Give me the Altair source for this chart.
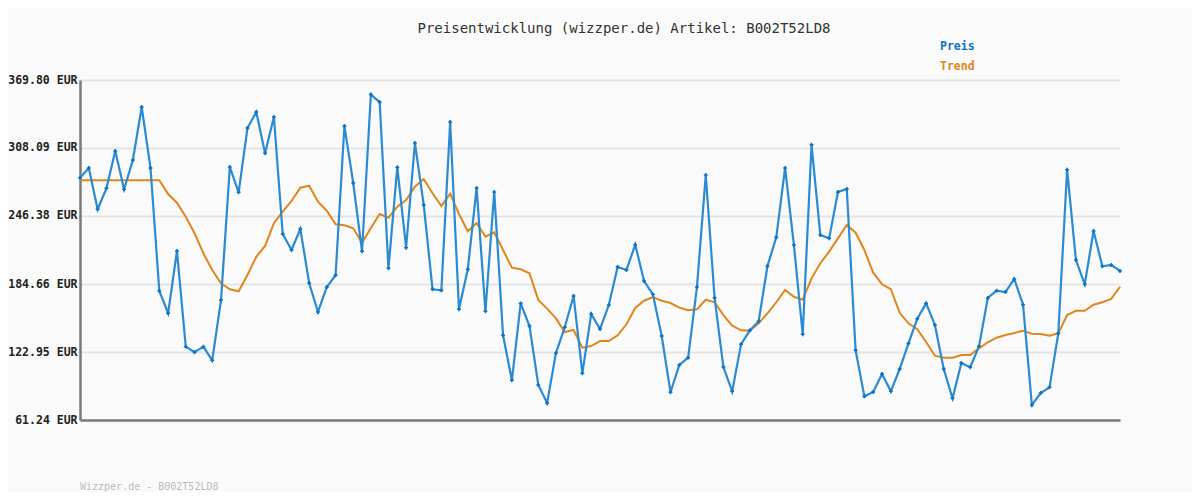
import altair as alt
import pandas as pd

preis = [281.1, 289.9, 252.5, 271.5, 305.4, 270.6, 297.2, 345.3, 289.9, 178.3,
         158.1, 214.6, 127.8, 122.7, 127.8, 115.4, 170.1, 290.8, 267.9, 326.2,
         340.8, 303.3, 336.2, 230.0, 215.5, 234.6, 185.6, 159.3, 181.9, 192.6,
         328.1, 276.3, 214.3, 356.6, 349.8, 198.9, 290.6, 217.6, 312.6, 256.4,
         179.9, 178.9, 331.7, 161.7, 198.0, 271.8, 159.9, 268.2, 138.1, 97.3,
         167.1, 146.5, 93.0, 76.7, 122.0, 145.4, 173.8, 103.6, 157.4, 143.8,
         165.6, 200.1, 197.4, 220.3, 187.4, 175.3, 137.5, 86.4, 111.2, 117.8,
         181.9, 283.6, 172.2, 109.3, 87.3, 129.9, 142.6, 150.8, 201.0, 227.0,
         289.9, 220.1, 139.0, 311.1, 229.1, 226.1, 268.2, 270.9, 124.5, 82.7,
         86.7, 103.0, 87.3, 107.5, 130.8, 153.2, 167.1, 147.5, 107.5, 80.9,
         113.0, 109.1, 128.1, 172.0, 178.6, 177.4, 189.2, 165.9, 74.9, 85.7,
         90.9, 139.9, 288.4, 206.4, 184.4, 232.8, 200.7, 201.9, 196.5]

trend = [278.8, 278.8, 278.8, 278.8, 278.8, 278.8, 278.8, 278.8, 278.8, 278.8,
         266.3, 258.4, 245.7, 230.7, 212.5, 197.4, 185.3, 179.9, 178.0, 192.8,
         209.4, 219.2, 239.8, 250.3, 260.0, 272.1, 273.9, 259.4, 251.2, 238.8,
         237.9, 235.2, 222.1, 235.5, 248.2, 244.8, 254.8, 260.9, 273.0, 280.0,
         267.0, 255.5, 266.6, 248.2, 232.5, 240.0, 227.6, 231.6, 215.5, 199.5,
         198.0, 194.4, 170.1, 162.3, 153.5, 141.1, 142.9, 126.9, 128.4, 132.9,
         132.9, 138.1, 148.1, 162.9, 169.5, 172.9, 169.5, 167.4, 163.2, 160.8,
         161.7, 170.4, 168.1, 156.5, 146.8, 142.6, 142.3, 149.0, 158.1, 168.1,
         179.2, 173.1, 170.4, 189.8, 203.5, 214.0, 226.1, 238.2, 231.2, 215.5,
         194.9, 184.4, 179.9, 158.5, 149.0, 143.6, 132.0, 119.6, 117.8, 117.8,
         120.2, 120.2, 126.3, 131.8, 135.9, 138.4, 140.2, 142.3, 139.6, 139.3,
         137.7, 139.9, 156.5, 160.4, 160.4, 165.9, 168.1, 171.1, 182.2]

y_ticks = [61.24, 122.95, 184.66, 246.38, 308.09, 369.80]
title_text = "Preisentwicklung (wizzper.de) Artikel: B002T52LD8"
legend_labels = ["Preis", "Trend"]
footer_text = "Wizzper.de - B002T52LD8"

BLUE_LINE = "#2b8bd2"
BLUE = "#0b72c4"
ORANGE = "#e0861c"
MONO = "DejaVu Sans Mono"

df = pd.DataFrame({"i": list(range(len(preis))), "preis": preis, "trend": trend})

xs = alt.X("i:Q", scale=alt.Scale(domain=[0, len(preis) - 1], nice=False, zero=False),
           axis=alt.Axis(labels=False, ticks=False, grid=False, title=None,
                         domainColor="#7a7a7a", domainWidth=2.5))
ys = alt.Y("preis:Q", scale=alt.Scale(domain=[y_ticks[0], y_ticks[-1]], nice=False, zero=False),
           axis=alt.Axis(values=y_ticks, labelExpr="format(datum.value, '.2f') + ' EUR'",
                         ticks=False, title=None, grid=True, gridColor="#e4e4e4", gridWidth=2,
                         domainColor="#7a7a7a", domainWidth=2.5, labelFont=MONO,
                         labelFontSize=11.5, labelFontWeight="bold", labelColor="#222222",
                         labelPadding=3))

base = alt.Chart(df)
preis_line = base.mark_line(color=BLUE_LINE, strokeWidth=2.2).encode(x=xs, y=ys)
preis_pts = base.mark_point(shape="cross", filled=True, size=15, color=BLUE, opacity=1).encode(
    x="i:Q", y="preis:Q")
trend_line = base.mark_line(color=ORANGE, strokeWidth=2).encode(x="i:Q", y="trend:Q")

title_df = pd.DataFrame({"t": [title_text]})
title = alt.Chart(title_df).mark_text(font=MONO, fontSize=14, color="#333333", align="center",
                                      baseline="middle").encode(
    text="t:N", x=alt.value(544), y=alt.value(-51))

leg_df = pd.DataFrame({"t": legend_labels, "c": [BLUE, ORANGE], "yy": [-33, -13]})
legend = alt.Chart(leg_df).mark_text(font=MONO, fontSize=11.5, fontWeight="bold", align="left",
                                     baseline="middle").encode(
    text="t:N", x=alt.value(860), y=alt.Y("yy:Q", scale=None), color=alt.Color("c:N", scale=None))

foot_df = pd.DataFrame({"t": [footer_text]})
footer = alt.Chart(foot_df).mark_text(font=MONO, fontSize=10, color="#bbbbbb", align="left",
                                      baseline="middle").encode(
    text="t:N", x=alt.value(0), y=alt.value(407))

chart = alt.layer(trend_line, preis_line, preis_pts, title, legend, footer).properties(
    width=1040, height=340,
    padding={"left": 72, "top": 72, "right": 72, "bottom": 72},
    autosize=alt.AutoSizeParams(type="none"),
    background="#fafafa",
).configure_view(stroke=None)

chart.save("out.html", embed_options={"renderer": "svg", "actions": False})
